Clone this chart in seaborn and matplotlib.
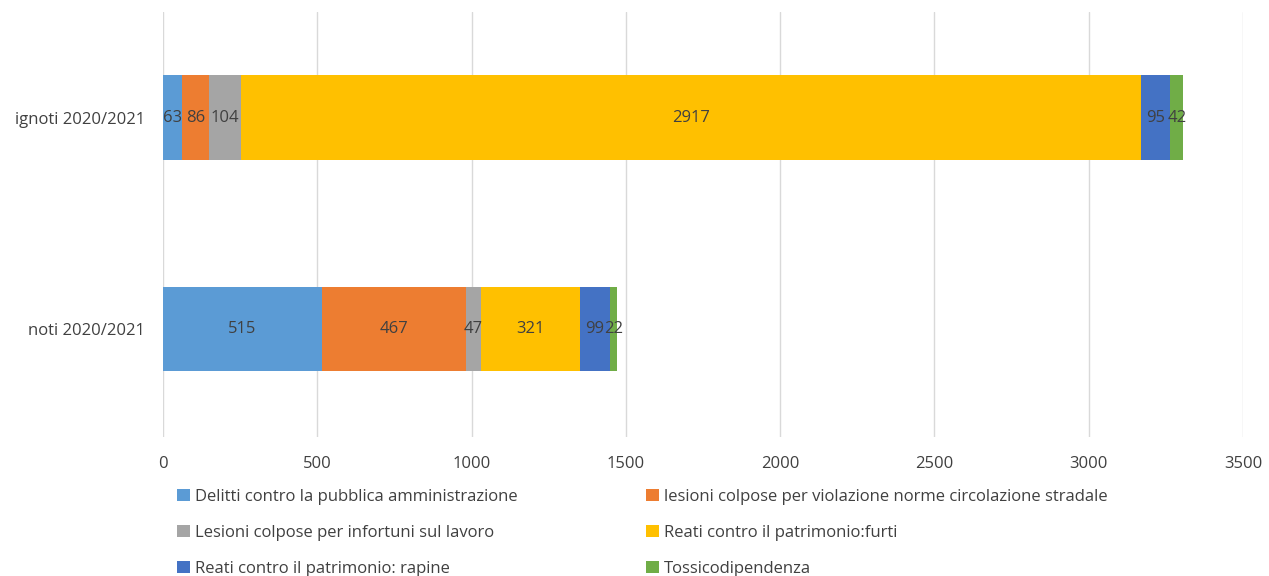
import numpy as np
import pandas as pd
import matplotlib
matplotlib.use("Agg")
import matplotlib.pyplot as plt
from matplotlib.patches import Patch
import seaborn as sns

categories = ["ignoti 2020/2021", "noti 2020/2021"]
series_names = [
    "Delitti contro la pubblica amministrazione",
    "lesioni colpose per violazione norme circolazione stradale",
    "Lesioni colpose per infortuni sul lavoro",
    "Reati contro il patrimonio:furti",
    "Reati contro il patrimonio: rapine",
    "Tossicodipendenza",
]
values_ignoti = [63, 86, 104, 2917, 95, 42]
values_noti = [515, 467, 47, 321, 99, 22]
colors = ["#5B9BD5", "#ED7D31", "#A5A5A5", "#FFC000", "#4472C4", "#70AD47"]
x_ticks = [0, 500, 1000, 1500, 2000, 2500, 3000, 3500]

sns.set_theme(style="white")
plt.rcParams["font.family"] = ["Open Sans", "DejaVu Sans"]
text_color = "#404040"
fs = 12

vals = np.array([values_ignoti, values_noti])
cum = np.cumsum(vals, axis=1)

fig = plt.figure(figsize=(12.69, 5.76), dpi=100)
ax = fig.add_axes([163 / 1269, 1 - 437 / 576, (1243 - 163) / 1269, (437 - 12) / 576])

# Stacked bars: draw cumulative totals from the outermost segment inward
for i in range(len(series_names) - 1, -1, -1):
    df = pd.DataFrame({"cat": categories, "total": cum[:, i]})
    sns.barplot(data=df, x="total", y="cat", order=categories, color=colors[i],
                width=0.4, saturation=1, ax=ax, linewidth=0, zorder=2)

# Segment value labels
for r in range(len(categories)):
    left = 0
    for i in range(len(series_names)):
        v = vals[r, i]
        ax.text(left + v / 2, r, str(v), ha="center", va="center",
                fontsize=fs, color=text_color, zorder=3)
        left += v

ax.set_xlim(0, 3500)
ax.set_ylim(1.51, -0.5)
ax.set_xticks(x_ticks)
ax.set_xticklabels([str(t) for t in x_ticks])
ax.xaxis.grid(True, color="#D9D9D9", linewidth=1, zorder=0)
ax.set_axisbelow(True)
ax.set_xlabel("")
ax.set_ylabel("")
for s in ax.spines.values():
    s.set_visible(False)
ax.tick_params(axis="x", length=0, pad=13.5, labelsize=fs, labelcolor=text_color)
ax.tick_params(axis="y", length=0, pad=13, labelsize=fs, labelcolor=text_color)

handles = [Patch(facecolor=c, edgecolor="none") for c in colors]
order = [0, 2, 4, 1, 3, 5]
fig.legend([handles[k] for k in order], [series_names[k] for k in order],
           ncol=2, loc="upper left", bbox_to_anchor=(177 / 1269, 1 - 489 / 576),
           frameon=False, fontsize=fs, labelcolor=text_color,
           handlelength=0.78, handleheight=0.72, handletextpad=0.3,
           labelspacing=1.2, columnspacing=7.7, borderaxespad=0, borderpad=0)

fig.savefig("out.png", dpi=100)
